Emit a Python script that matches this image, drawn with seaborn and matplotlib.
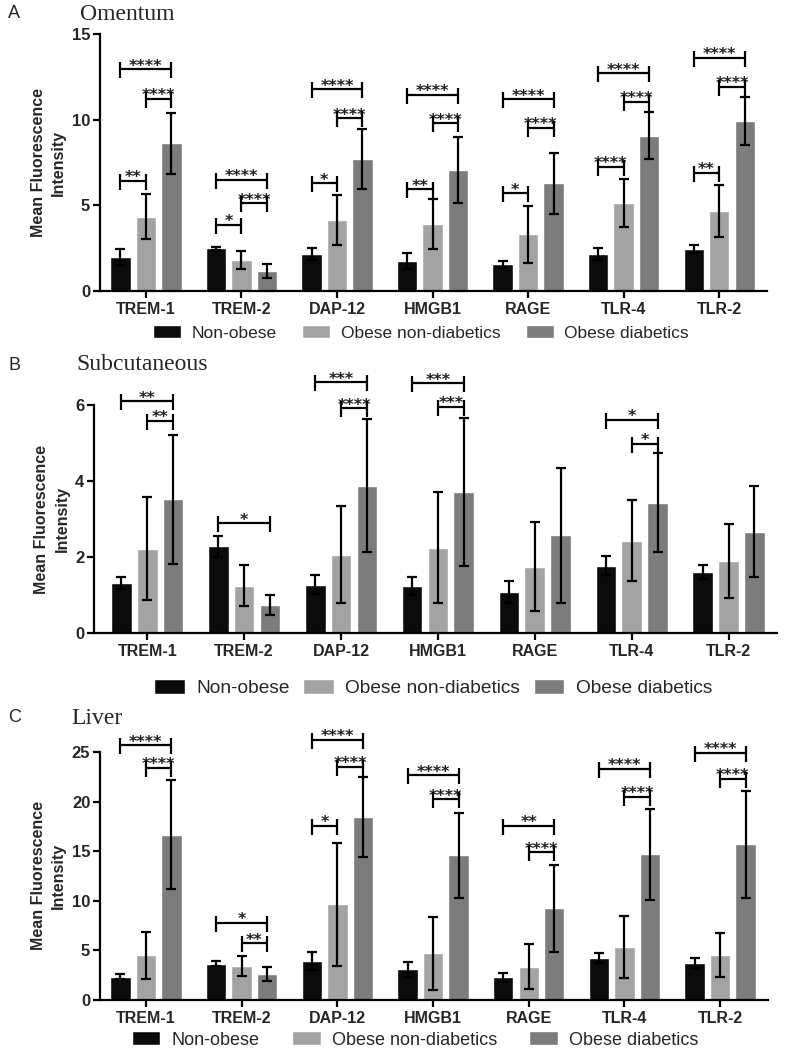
import numpy as np
import pandas as pd
import matplotlib
matplotlib.use("Agg")
import matplotlib.pyplot as plt
import seaborn as sns

# ==================================
# data
# ==================================

markers = ["TREM-1", "TREM-2", "DAP-12", "HMGB1", "RAGE", "TLR-4", "TLR-2"]
groups = ["Non-obese", "Obese non-diabetics", "Obese diabetics"]
colors = ["#0b0b0b", "#a3a3a3", "#7c7c7c"]

# A - Omentum
om_non_obese = [1.97, 2.49, 2.16, 1.75, 1.56, 2.16, 2.45]
om_obese_nd = [4.34, 1.81, 4.14, 3.89, 3.31, 5.12, 4.67]
om_obese_d = [8.62, 1.17, 7.70, 7.06, 6.29, 9.07, 9.94]
om_err_non_obese = [0.48, 0.10, 0.33, 0.49, 0.21, 0.33, 0.24]
om_err_obese_nd = [1.33, 0.50, 1.47, 1.46, 1.65, 1.41, 1.54]
om_err_obese_d = [1.77, 0.41, 1.76, 1.93, 1.78, 1.38, 1.39]
# (marker, group a, group b, bracket height, stars)
om_sig = [
    (0, 0, 1, 6.42, "**"), (0, 0, 2, 12.94, "****"), (0, 1, 2, 11.2, "****"),
    (1, 0, 1, 3.85, "*"), (1, 0, 2, 6.48, "****"), (1, 1, 2, 5.12, "****"),
    (2, 0, 1, 6.29, "*"), (2, 0, 2, 11.77, "****"), (2, 1, 2, 10.08, "****"),
    (3, 0, 1, 5.93, "**"), (3, 0, 2, 11.44, "****"), (3, 1, 2, 9.79, "****"),
    (4, 0, 1, 5.70, "*"), (4, 0, 2, 11.19, "****"), (4, 1, 2, 9.53, "****"),
    (5, 0, 1, 7.26, "****"), (5, 0, 2, 12.71, "****"), (5, 1, 2, 11.05, "****"),
    (6, 0, 1, 6.91, "**"), (6, 0, 2, 13.62, "****"), (6, 1, 2, 11.93, "****"),
]

# B - Subcutaneous
sc_non_obese = [1.31, 2.28, 1.27, 1.23, 1.09, 1.77, 1.60]
sc_obese_nd = [2.22, 1.25, 2.06, 2.25, 1.75, 2.43, 1.90]
sc_obese_d = [3.52, 0.73, 3.88, 3.72, 2.57, 3.43, 2.67]
sc_err_non_obese = [0.16, 0.28, 0.25, 0.24, 0.29, 0.25, 0.19]
sc_err_obese_nd = [1.35, 0.54, 1.27, 1.45, 1.17, 1.06, 0.97]
sc_err_obese_d = [1.70, 0.26, 1.75, 1.95, 1.78, 1.30, 1.20]
sc_sig = [
    (0, 0, 2, 6.10, "**"), (0, 1, 2, 5.58, "**"),
    (1, 0, 2, 2.89, "*"),
    (2, 0, 2, 6.60, "***"), (2, 1, 2, 5.91, "****"),
    (3, 0, 2, 6.57, "***"), (3, 1, 2, 5.96, "***"),
    (5, 0, 2, 5.61, "*"), (5, 1, 2, 4.98, "*"),
]

# C - Liver
lv_non_obese = [2.35, 3.66, 3.96, 3.09, 2.28, 4.19, 3.76]
lv_obese_nd = [4.53, 3.42, 9.63, 4.70, 3.36, 5.30, 4.53]
lv_obese_d = [16.68, 2.62, 18.46, 14.60, 9.23, 14.70, 15.70]
lv_err_non_obese = [0.27, 0.27, 0.91, 0.74, 0.47, 0.51, 0.50]
lv_err_obese_nd = [2.37, 1.00, 6.21, 3.69, 2.24, 3.12, 2.20]
lv_err_obese_d = [5.50, 0.72, 4.03, 4.28, 4.38, 4.60, 5.37]
lv_sig = [
    (0, 0, 2, 25.67, "****"), (0, 1, 2, 23.42, "****"),
    (1, 0, 2, 7.79, "*"), (1, 1, 2, 5.70, "**"),
    (2, 0, 1, 17.55, "*"), (2, 0, 2, 26.24, "****"), (2, 1, 2, 23.49, "****"),
    (3, 0, 2, 22.65, "****"), (3, 1, 2, 20.23, "****"),
    (4, 0, 2, 17.55, "**"), (4, 1, 2, 14.87, "****"),
    (5, 0, 2, 23.32, "****"), (5, 1, 2, 20.47, "****"),
    (6, 0, 2, 24.93, "****"), (6, 1, 2, 22.32, "****"),
]

# ==================================
# style
# ==================================

sns.set_style("white")
plt.rcParams["font.family"] = ["Liberation Sans", "DejaVu Sans"]

W, H = 788, 1051
fig = plt.figure(figsize=(W / 100, H / 100), dpi=100)


def px_box(x0, x1, ytop, ybot):
    return [x0 / W, 1 - ybot / H, (x1 - x0) / W, (ybot - ytop) / H]


def draw_panel(box, means, errs, sig, ymax, yticks, xlim,
               letter, title, title_xy, legend_xy, legend_fs, colspace):
    ax = fig.add_axes(px_box(*box))

    df = pd.DataFrame({
        "marker": markers * 3,
        "group": np.repeat(groups, len(markers)),
        "value": np.concatenate(means),
    })
    sns.barplot(data=df, x="marker", y="value", hue="group",
                order=markers, hue_order=groups, palette=colors,
                errorbar=None, gap=0.2, width=0.8, saturation=1,
                ax=ax)

    # error bars at bar centers
    bar_conts = list(ax.containers)
    centers = []
    for g, cont in enumerate(bar_conts):
        xs = [p.get_x() + p.get_width() / 2 for p in cont.patches]
        centers.append(xs)
        ax.errorbar(xs, means[g], yerr=errs[g], fmt="none", ecolor="black",
                    elinewidth=1.6, capsize=3.5, capthick=1.6, zorder=5)

    ax.set_ylim(0, ymax)
    ax.set_xlim(*xlim)
    ax.set_yticks(yticks)
    ax.set_xlabel("")
    ax.set_ylabel("Mean Fluorescence\nIntensity", fontsize=11.5,
                  fontweight="bold", linespacing=1.45, labelpad=4)
    sns.despine(ax=ax)
    for s in ["left", "bottom"]:
        ax.spines[s].set_linewidth(1.6)
        ax.spines[s].set_color("black")
    ax.tick_params(axis="both", direction="out", length=5, width=1.6,
                   color="black", bottom=True, left=True)
    ax.tick_params(axis="x", labelsize=11.5, pad=3)
    ax.tick_params(axis="y", labelsize=12, pad=2)
    for lab in ax.get_xticklabels() + ax.get_yticklabels():
        lab.set_fontweight("bold")

    # significance brackets
    unit = ymax / (box[3] - box[2])  # data units per pixel
    for m, a, b, y, stars in sig:
        x1, x2 = centers[a][m], centers[b][m]
        kw = dict(color="black", lw=1.6, clip_on=False, zorder=6,
                  solid_capstyle="butt")
        ax.plot([x1, x2], [y, y], **kw)
        ax.plot([x1, x1], [y - 9 * unit, y + 7 * unit], **kw)
        ax.plot([x2, x2], [y - 9 * unit, y + 7 * unit], **kw)
        ax.annotate(stars, xy=((x1 + x2) / 2, y), xytext=(0, -1.0),
                    textcoords="offset points", ha="center", va="baseline",
                    fontsize=11.5, fontweight="bold", family="DejaVu Sans",
                    color="#222222", annotation_clip=False)

    handles, labels = ax.get_legend_handles_labels()
    if ax.get_legend() is not None:
        ax.get_legend().remove()
    fig.legend(handles[:3], labels[:3], ncol=3, loc="center",
               bbox_to_anchor=(legend_xy[0] / W, 1 - legend_xy[1] / H),
               frameon=False, fontsize=legend_fs, handlelength=1.6,
               handleheight=0.8, handletextpad=0.6, columnspacing=colspace)

    fig.text(8 / W, 1 - letter[1] / H, letter[0], fontsize=13,
             va="center", ha="left")
    fig.text(title_xy[0] / W, 1 - title_xy[1] / H, title, fontsize=17,
             family="Liberation Serif", va="center", ha="left")
    return ax


draw_panel((100, 767, 34, 291),
           [om_non_obese, om_obese_nd, om_obese_d],
           [om_err_non_obese, om_err_obese_nd, om_err_obese_d],
           om_sig, 15, [0, 5, 10, 15], (-0.48, 6.5),
           ("A", 14), "Omentum", (80, 15), (421, 333), 12.5, 1.5)

draw_panel((94, 777, 405, 633),
           [sc_non_obese, sc_obese_nd, sc_obese_d],
           [sc_err_non_obese, sc_err_obese_nd, sc_err_obese_d],
           sc_sig, 6, [0, 2, 4, 6], (-0.55, 6.5),
           ("B", 365), "Subcutaneous", (76, 365), (433, 688), 13.8, 0.7)

draw_panel((100, 768, 752, 1000),
           [lv_non_obese, lv_obese_nd, lv_obese_d],
           [lv_err_non_obese, lv_err_obese_nd, lv_err_obese_d],
           lv_sig, 25, [0, 5, 10, 15, 20, 25], (-0.48, 6.5),
           ("C", 718), "Liver", (71, 719), (415, 1040), 13, 1.8)

fig.savefig("out.png", dpi=100)
